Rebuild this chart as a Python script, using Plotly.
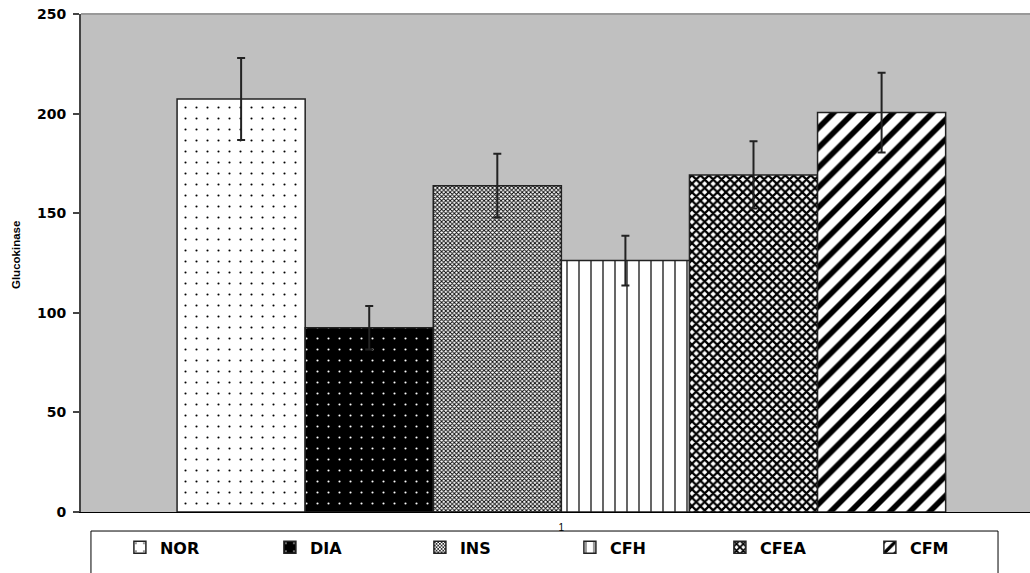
import plotly.graph_objects as go

groups = ["NOR", "DIA", "INS", "CFH", "CFEA", "CFM"]
values = [207.3, 92.5, 163.8, 126.2, 169.2, 200.5]
errors = [20.6, 10.9, 16.0, 12.5, 16.9, 20.0]
category = ["1"]

styles = {
    "NOR":  dict(color="white", shape=".", fg="black", size=11, solidity=0.03),
    "DIA":  dict(color="black", shape=".", fg="white", size=11, solidity=0.03),
    "INS":  dict(color="white", shape="x", fg="black", size=3, solidity=0.5),
    "CFH":  dict(color="white", shape="|", fg="black", size=12, solidity=0.1),
    "CFEA": dict(color="white", shape="x", fg="black", size=6, solidity=0.6),
    "CFM":  dict(color="white", shape="/", fg="black", size=14, solidity=0.4),
}

BOLD = "DejaVu Sans, Arial, sans-serif"

fig = go.Figure()
for g, v, e in zip(groups, values, errors):
    s = styles[g]
    fig.add_trace(go.Bar(
        name=g, x=category, y=[v],
        marker=dict(
            color=s["color"],
            line=dict(color="#222222", width=1.5),
            pattern=dict(shape=s["shape"], fgcolor=s["fg"], bgcolor=s["color"],
                         size=s["size"], solidity=s["solidity"], fillmode="replace"),
        ),
        error_y=dict(type="data", array=[e], visible=True, color="#222222",
                     thickness=2, width=4),
    ))

fig.update_layout(
    width=1030, height=573,
    margin=dict(l=81, r=0, t=14, b=61),
    paper_bgcolor="white", plot_bgcolor="#C0C0C0",
    barmode="group", bargap=0.2, bargroupgap=0,
    font=dict(family="Arial, Liberation Sans, sans-serif", color="black"),
    showlegend=True,
    legend=dict(orientation="h", x=0.041, xanchor="left", y=-0.071, yanchor="middle",
                font=dict(size=16, family=BOLD, weight="bold"),
                entrywidth=105, entrywidthmode="pixels",
                bgcolor="rgba(0,0,0,0)", borderwidth=0,
                traceorder="normal", itemwidth=30),
    xaxis=dict(range=[-0.5, 0.4878], showline=True, linecolor="black", linewidth=1,
               ticks="", tickfont=dict(size=10), showgrid=False, zeroline=False,
               ticklabelstandoff=6),
    yaxis=dict(range=[0, 250], dtick=50, showline=True, linecolor="#444444", linewidth=2,
               ticks="outside", ticklen=6, tickcolor="#444444", tickwidth=1.5,
               tickfont=dict(size=14, family=BOLD, weight="bold"), showgrid=False,
               zeroline=False, ticklabelstandoff=4),
    shapes=[
        dict(type="line", xref="paper", yref="paper", x0=0, x1=1, y0=1, y1=1,
             line=dict(color="#999999", width=2)),
        dict(type="rect", xref="paper", yref="paper", x0=0.0105, x1=0.9663,
             y0=-0.0382, y1=-0.2, line=dict(color="black", width=1)),
    ],
    annotations=[
        dict(text="<b>Glucokinase</b>", xref="paper", yref="paper", x=-0.0685, y=0.516,
             textangle=-90, showarrow=False, font=dict(size=11.5), xanchor="center",
             yanchor="middle"),
    ],
)

fig.write_html("out.html", config={"displayModeBar": False},
               post_script="document.body.style.margin='0';")
